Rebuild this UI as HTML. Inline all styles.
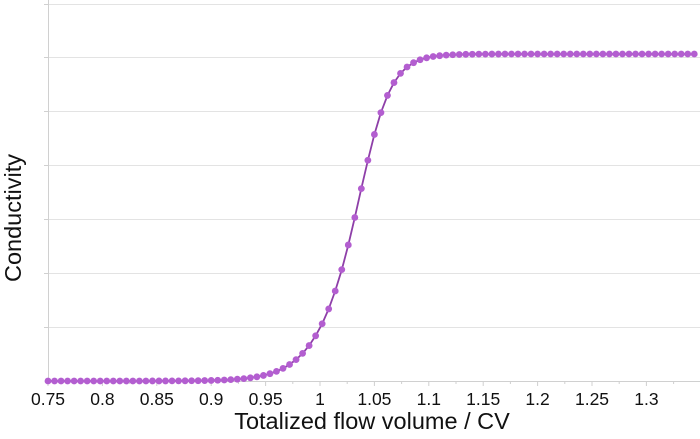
<!DOCTYPE html>
<html><head><meta charset="utf-8"><style>
html,body{margin:0;padding:0;background:#fff;}
svg{display:block;font-family:"Liberation Sans",sans-serif;}
</style></head><body>
<svg id="c" width="700" height="439" viewBox="0 0 700 439" xmlns="http://www.w3.org/2000/svg">
<g id="grid" stroke="#e3e3e3" stroke-width="1"></g>
<line x1="48.5" y1="0" x2="48.5" y2="381" stroke="#d0d0d0"/>
<line x1="48" y1="381.5" x2="700" y2="381.5" stroke="#d0d0d0"/>
<g id="ticks" stroke="#d0d0d0"></g>
<g id="labels" font-size="17.5" fill="#111" text-anchor="middle"></g>
<text x="372" y="429" font-size="23.5" text-anchor="middle" fill="#111">Totalized flow volume / CV</text>
<text transform="translate(21,218) rotate(-90)" font-size="23.5" text-anchor="middle" fill="#111">Conductivity</text>
<path id="line" fill="none" stroke="#8e3fa8" stroke-width="1.8"/>
<g id="pts" fill="#b35ed0"></g>
</svg>
<script>
var ns="http://www.w3.org/2000/svg";
function el(p,t,a){var e=document.createElementNS(ns,t);for(var k in a)e.setAttribute(k,a[k]);document.getElementById(p).appendChild(e);return e;}
function X(v){return 48+(v-0.75)/0.05*54.4;}
var gy=[4,57,111,165,219,273,327];
gy.forEach(function(y){el("grid","line",{x1:48,x2:700,y1:y+0.5,y2:y+0.5});el("ticks","line",{x1:44,x2:48,y1:y+0.5,y2:y+0.5});});
for(var i=0;i<=11;i++){var v=0.75+i*0.05,x=X(v);
 var t=el("labels","text",{x:x,y:405});t.textContent=(Math.round(v*100)/100).toString();
 el("ticks","line",{x1:x,x2:x,y1:381,y2:386});
 var xm=X(v+0.025);if(xm<700)el("ticks","line",{x1:xm,x2:xm,y1:381,y2:384});}
var m=1.032;
function f(x){var d=x-m;var k=58+10*Math.tanh(d/0.04);return 1/(1+Math.exp(-k*d));}
function Y(v){return 381-v*327;}
var d="";
for(var x=0.75;x<=1.35;x+=0.006){var px=X(x),py=Y(f(x));d+=(d?"L":"M")+px.toFixed(1)+" "+py.toFixed(1);
 el("pts","circle",{cx:px,cy:py,r:3.4});}
document.getElementById("line").setAttribute("d",d);
</script>
</body></html>
